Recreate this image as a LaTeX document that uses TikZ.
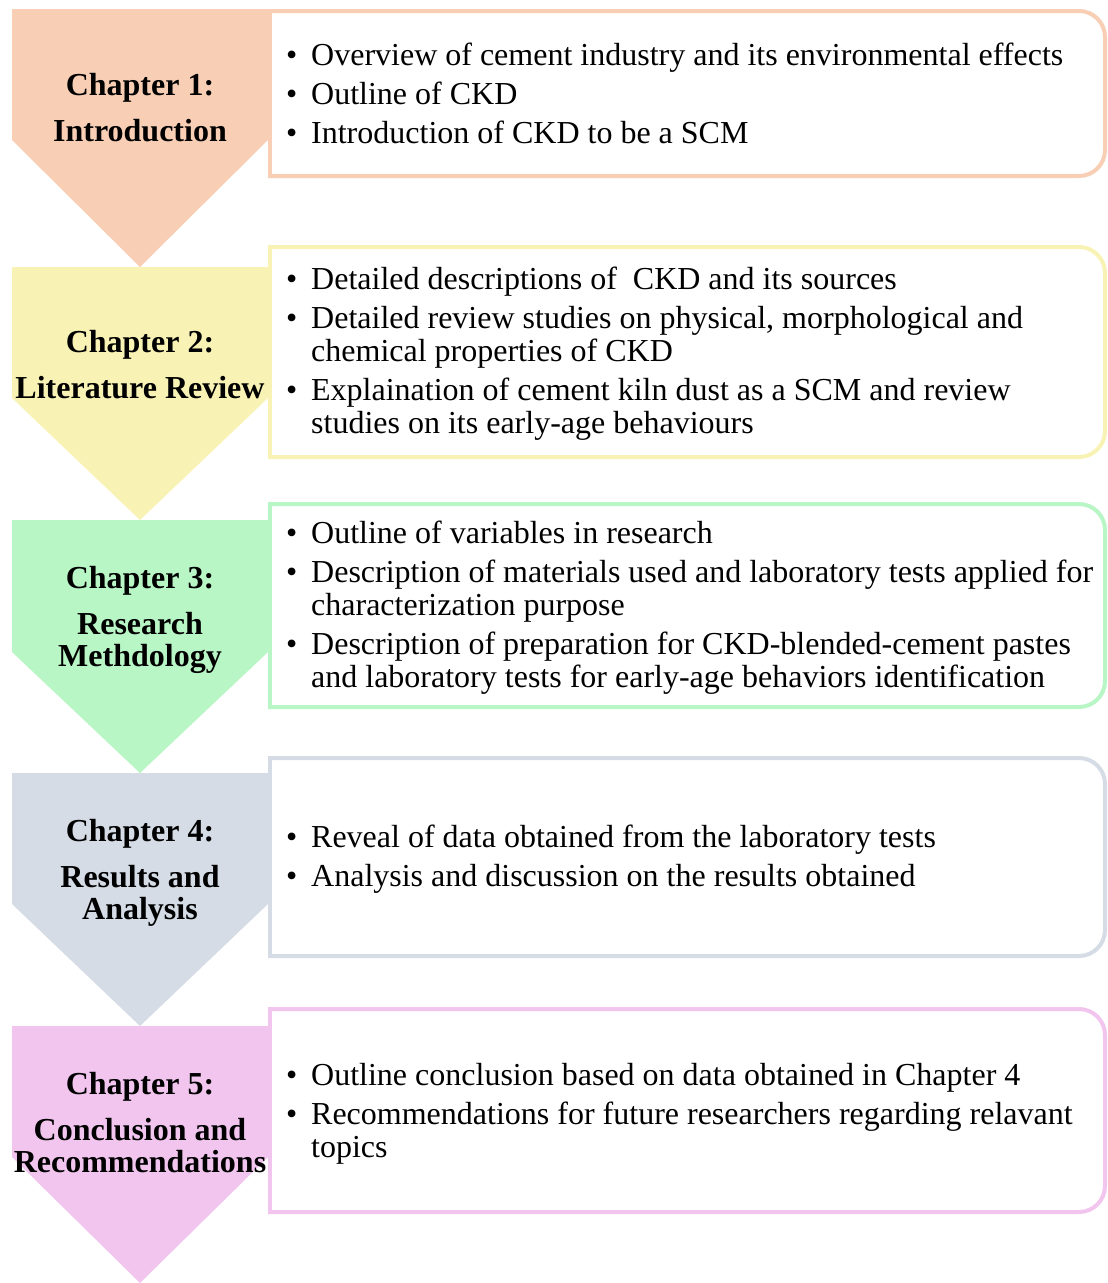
\documentclass[tikz,border=0pt]{standalone}
\usepackage{fontspec}
\setmainfont{Liberation Serif}
\usepackage{tikz}
\usetikzlibrary{calc}

\definecolor{IntroPeach}{HTML}{F8CFB5}
\definecolor{LitYellow}{HTML}{F8F3B4}
\definecolor{MethGreen}{HTML}{B9F6C5}
\definecolor{ResGray}{HTML}{D5DCE5}
\definecolor{ConcPink}{HTML}{F2C5EF}

\tikzset{
	chevron/.style={fill=#1, draw=none},
	chaptertext/.style={anchor=base, inner sep=0pt, font=\fontsize{32}{32}\selectfont\bfseries},
	infobox/.style={draw=#1, line width=4pt, line cap=rect},
	infotext/.style={anchor=base west, inner sep=0pt, font=\fontsize{32}{33}\selectfont}
}

\begin{document}
\begin{tikzpicture}[x=1pt, y=-1pt]

\fill[white] (0,0) rectangle (1108,1283);

% chapter arrows
\fill[chevron=IntroPeach] (12,9) -- (268,9) -- (268,140) -- (140,267) -- (12,140) -- cycle;
\fill[chevron=LitYellow] (12,267) -- (268,267) -- (268,398) -- (140,520) -- (12,398) -- cycle;
\fill[chevron=MethGreen] (12,520) -- (268,520) -- (268,652) -- (140,773) -- (12,652) -- cycle;
\fill[chevron=ResGray] (12,773) -- (268,773) -- (268,904) -- (140,1026) -- (12,904) -- cycle;
\fill[chevron=ConcPink] (12,1026) -- (268,1026) -- (268,1157) -- (140,1283) -- (12,1157) -- cycle;

\node[chaptertext] (introTitle) at (140,95)
	{\begin{tabular}[t]{@{}c@{}}Chapter 1:\\[14pt]Introduction\end{tabular}};
\node[chaptertext] (litTitle) at (140,352)
	{\begin{tabular}[t]{@{}c@{}}Chapter 2:\\[14pt]Literature Review\end{tabular}};
\node[chaptertext] (methTitle) at (140,588)
	{\begin{tabular}[t]{@{}c@{}}Chapter 3:\\[14pt]Research\\Methdology\end{tabular}};
\node[chaptertext] (resTitle) at (140,841)
	{\begin{tabular}[t]{@{}c@{}}Chapter 4:\\[14pt]Results and\\Analysis\end{tabular}};
\node[chaptertext] (concTitle) at (140,1094)
	{\begin{tabular}[t]{@{}c@{}}Chapter 5:\\[14pt]Conclusion and\\Recommendations\end{tabular}};

% ---

% content boxes
\draw[infobox=IntroPeach] (270,11) -- (270,176);
\draw[infobox=IntroPeach, rounded corners=26pt] (270,11) -- (1105,11) -- (1105,176) -- (270,176);

\draw[infobox=LitYellow] (270,247) -- (270,457);
\draw[infobox=LitYellow, rounded corners=26pt] (270,247) -- (1105,247) -- (1105,457) -- (270,457);

\draw[infobox=MethGreen] (270,504) -- (270,707);
\draw[infobox=MethGreen, rounded corners=26pt] (270,504) -- (1105,504) -- (1105,707) -- (270,707);

\draw[infobox=ResGray] (270,758) -- (270,956);
\draw[infobox=ResGray, rounded corners=26pt] (270,758) -- (1105,758) -- (1105,956) -- (270,956);

\draw[infobox=ConcPink] (270,1009) -- (270,1212);
\draw[infobox=ConcPink, rounded corners=26pt] (270,1009) -- (1105,1009) -- (1105,1212) -- (270,1212);

\node[infotext] (introList) at (286,65) {\begin{tabular}[t]{@{}p{25pt}@{}l@{}}
	\textbullet & Overview of cement industry and its environmental effects\\[6pt]
	\textbullet & Outline of CKD\\[6pt]
	\textbullet & Introduction of CKD to be a SCM
\end{tabular}};

\node[infotext] (litList) at (286,289) {\begin{tabular}[t]{@{}p{25pt}@{}l@{}}
	\textbullet & Detailed descriptions of\ \ CKD and its sources\\[6pt]
	\textbullet & Detailed review studies on physical, morphological and\\
	& chemical properties of CKD\\[6pt]
	\textbullet & Explaination of cement kiln dust as a SCM and review\\
	& studies on its early-age behaviours
\end{tabular}};

\node[infotext] (methList) at (286,543) {\begin{tabular}[t]{@{}p{25pt}@{}l@{}}
	\textbullet & Outline of variables in research\\[6pt]
	\textbullet & Description of materials used and laboratory tests applied for\\
	& characterization purpose\\[6pt]
	\textbullet & Description of preparation for CKD-blended-cement pastes\\
	& and laboratory tests for early-age behaviors identification
\end{tabular}};

\node[infotext] (resList) at (286,847) {\begin{tabular}[t]{@{}p{25pt}@{}l@{}}
	\textbullet & Reveal of data obtained from the laboratory tests\\[6pt]
	\textbullet & Analysis and discussion on the results obtained
\end{tabular}};

\node[infotext] (concList) at (286,1085) {\begin{tabular}[t]{@{}p{25pt}@{}l@{}}
	\textbullet & Outline conclusion based on data obtained in Chapter 4\\[6pt]
	\textbullet & Recommendations for future researchers regarding relavant\\
	& topics
\end{tabular}};

\end{tikzpicture}
\end{document}
